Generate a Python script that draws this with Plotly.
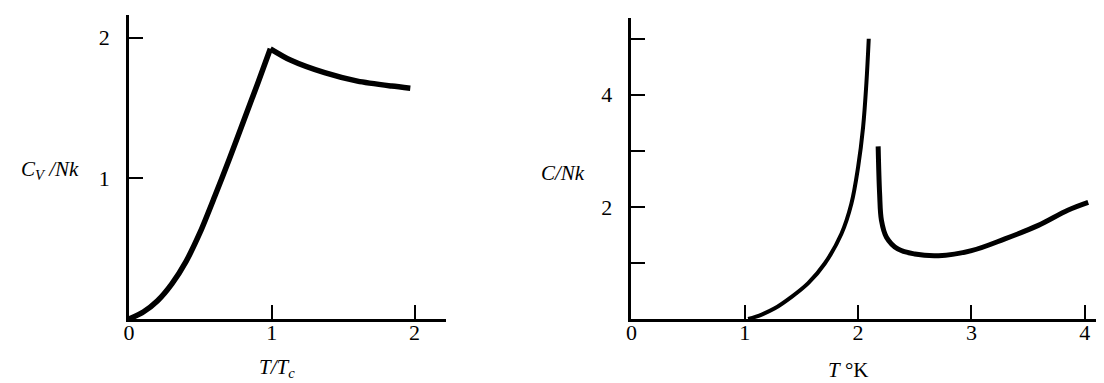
import plotly.graph_objects as go

# Left panel: ideal Bose gas specific heat (rising and falling parts meet at T = Tc)
bose_rise_T = [0, 0.1, 0.2, 0.3, 0.4, 0.5, 0.6, 0.7, 0.8, 0.9, 0.99]
bose_rise_C = [0, 0.05, 0.13, 0.25, 0.41, 0.62, 0.87, 1.13, 1.40, 1.67, 1.92]
bose_fall_T = [0.99, 1.13, 1.37, 1.60, 1.84, 1.97]
bose_fall_C = [1.92, 1.84, 1.75, 1.69, 1.655, 1.64]

# Right panel: liquid helium specific heat (two branches)
he_low_T = [1.03, 1.15, 1.265, 1.41, 1.56, 1.706, 1.853, 1.94, 2.0, 2.044, 2.073, 2.094]
he_low_C = [0, 0.08, 0.19, 0.39, 0.64, 0.99, 1.52, 2.05, 2.71, 3.42, 4.2, 5.0]
he_high_T = [2.177, 2.19, 2.206, 2.25, 2.35, 2.50, 2.71, 3.0, 3.295, 3.59, 3.85, 4.03]
he_high_C = [3.08, 2.23, 1.76, 1.46, 1.25, 1.16, 1.13, 1.22, 1.43, 1.67, 1.94, 2.08]

left_xticks = [0, 1, 2]
left_yticks = [1, 2]
right_xticks = [0, 1, 2, 3, 4]
right_yticks = [1, 2, 3, 4, 5]
right_yticktext = ["", "2", "", "4", ""]

W, H = 1104, 383
fig = go.Figure()
for xs, ys, ax, ay, w, sm in [
    (bose_rise_T, bose_rise_C, "x", "y", 5.5, 0.7),
    (bose_fall_T, bose_fall_C, "x", "y", 5.5, 0.7),
    (he_low_T, he_low_C, "x2", "y2", 4, 1.0),
    (he_high_T, he_high_C, "x2", "y2", 5, 1.0),
]:
    fig.add_trace(go.Scatter(x=xs, y=ys, mode="lines",
                             line=dict(color="black", width=w, shape="spline", smoothing=sm),
                             xaxis=ax, yaxis=ay, showlegend=False))

tickfont = dict(family="Liberation Serif", size=22, color="black")
common = dict(showline=True, linecolor="black", linewidth=2.5, ticks="inside",
              ticklen=14, tickwidth=2, tickcolor="black", showgrid=False,
              zeroline=False, tickfont=tickfont, fixedrange=True, automargin=False)

y0 = (H - 311) / H
fig.update_layout(
    width=W, height=H, margin=dict(l=0, r=0, t=0, b=0, pad=0), autosize=False,
    paper_bgcolor="white", plot_bgcolor="white",
    xaxis=dict(domain=[121 / W, 438 / W], range=[0, 2.22], tickvals=left_xticks,
               anchor="y", ticklabelstandoff=-8, **common),
    yaxis=dict(domain=[y0, (H - 7) / H], range=[0, 2.16], tickvals=left_yticks,
               anchor="x", ticklabelstandoff=12, **common),
    xaxis2=dict(domain=[623.4 / W, 1.0], range=[0, 4.24], tickvals=right_xticks,
                anchor="y2", ticklabelstandoff=-8, **common),
    yaxis2=dict(domain=[y0, (H - 10) / H], range=[0, 5.37], tickvals=right_yticks,
                ticktext=right_yticktext, anchor="x2", ticklabelstandoff=12, **common),
)

labfont = dict(family="Liberation Serif", size=21, color="black")
for x, y, t in [(42, 162, "<i>C<sub>V</sub> /Nk</i>"),
                (269, 360, "<i>T/T<sub>c</sub></i>"),
                (555, 165, "<i>C/Nk</i>"),
                (840, 362, "<i>T</i> °K")]:
    fig.add_annotation(x=x / W, y=(H - y) / H, xref="paper", yref="paper",
                       xanchor="center", yanchor="middle",
                       text=t, showarrow=False, font=labfont)

fig.write_html("out.html")
